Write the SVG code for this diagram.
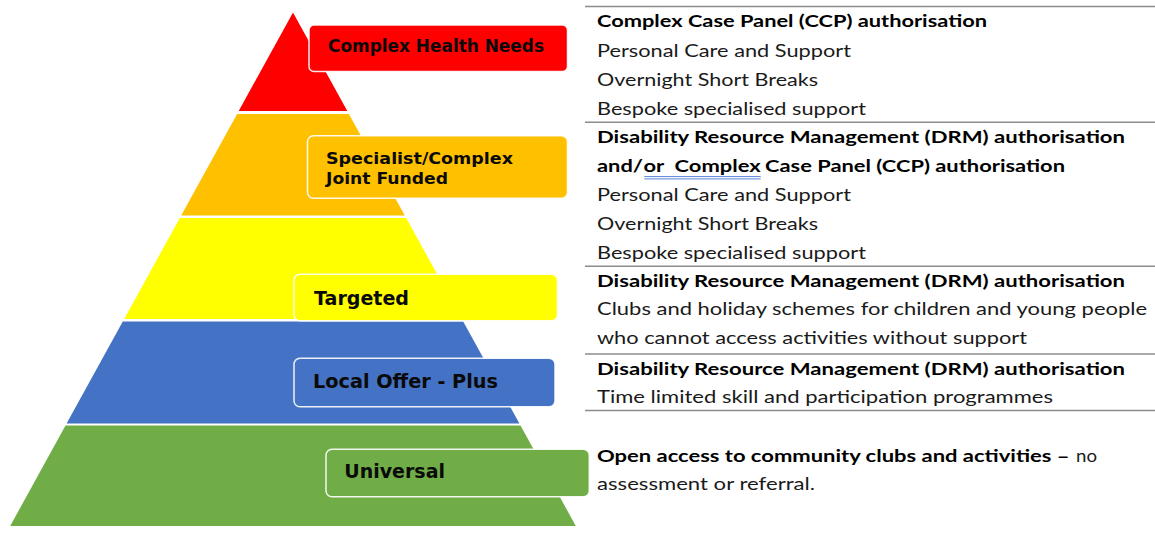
<svg xmlns="http://www.w3.org/2000/svg" width="1155" height="556" viewBox="0 0 1155 556">
<style>
.tier{stroke:none}
.box{stroke:#ffffff;stroke-width:1.5;stroke-opacity:0.9}
.lbl{font-family:"DejaVu Sans","Liberation Sans",sans-serif;font-weight:bold;fill:#0a0a0a}
.t{font-family:Lato,"Open Sans","Liberation Sans",sans-serif;font-size:17.5px;fill:#1a1a1a}
.b{font-weight:bold;fill:#000}
.rule{stroke:#8c8c8c;stroke-width:1.5}
.wavy{stroke:#5a84d8;stroke-width:1}
</style>
<rect width="1155" height="556" fill="#ffffff"/>

<g id="pyramid">
<polygon class="tier" fill="#FF0000" points="293,12.5 238.7,111 347.3,111"/>
<polygon class="tier" fill="#FFC000" points="237.1,114 348.9,114 404.8,215.5 181.2,215.5"/>
<polygon class="tier" fill="#FFFF00" points="179.8,218 406.2,218 461.8,319 124.2,319"/>
<polygon class="tier" fill="#4472C4" points="122.8,321.5 463.2,321.5 519.4,423.5 66.6,423.5"/>
<polygon class="tier" fill="#70AD47" points="65.5,425.5 520.5,425.5 575.8,526 10.2,526"/>
</g>

<g id="node-complex-health">
<rect class="box" x="309" y="25" width="258.5" height="46.5" rx="5" fill="#FF0000"/>
<text class="lbl" x="328" y="52.3" font-size="17" textLength="216" lengthAdjust="spacingAndGlyphs">Complex Health Needs</text>
</g>

<g id="node-specialist">
<rect class="box" x="307.5" y="135.7" width="260" height="62.6" rx="6" fill="#FFC000"/>
<text class="lbl" x="326" y="164" font-size="16.5" textLength="187" lengthAdjust="spacingAndGlyphs">Specialist/Complex</text>
<text class="lbl" x="326" y="184.3" font-size="16.5" textLength="122" lengthAdjust="spacingAndGlyphs">Joint Funded</text>
</g>

<g id="node-targeted">
<rect class="box" x="294" y="274.3" width="263.5" height="46.4" rx="6" fill="#FFFF00"/>
<text class="lbl" x="314" y="305" font-size="19" textLength="95" lengthAdjust="spacingAndGlyphs">Targeted</text>
</g>

<g id="node-local-offer">
<rect class="box" x="294" y="358.3" width="261" height="48.4" rx="6" fill="#4472C4"/>
<text class="lbl" x="313" y="388.3" font-size="19" textLength="185" lengthAdjust="spacingAndGlyphs">Local Offer - Plus</text>
</g>

<g id="node-universal">
<rect class="box" x="326" y="449.3" width="263.3" height="47.4" rx="6" fill="#70AD47"/>
<text class="lbl" x="344.3" y="478.3" font-size="19" textLength="100.7" lengthAdjust="spacingAndGlyphs">Universal</text>
</g>

<g id="connectors">
<line class="rule" x1="585" y1="6.5" x2="1155" y2="6.5"/>
<line class="rule" x1="585" y1="122.3" x2="1155" y2="122.3"/>
<line class="rule" x1="585" y1="266.3" x2="1155" y2="266.3"/>
<line class="rule" x1="585" y1="354" x2="1155" y2="354"/>
<line class="rule" x1="585" y1="410.5" x2="1155" y2="410.5"/>
</g>

<g id="desc-complex-health">
<text class="t b" x="597" y="27" textLength="390" lengthAdjust="spacingAndGlyphs">Complex Case Panel (CCP) authorisation</text>
<text class="t" x="597" y="56.5" textLength="254" lengthAdjust="spacingAndGlyphs">Personal Care and Support</text>
<text class="t" x="597" y="85.5" textLength="221" lengthAdjust="spacingAndGlyphs">Overnight Short Breaks</text>
<text class="t" x="597" y="114.5" textLength="269" lengthAdjust="spacingAndGlyphs">Bespoke specialised support</text>
</g>

<g id="desc-specialist">
<text class="t b" x="597" y="143" textLength="528" lengthAdjust="spacingAndGlyphs">Disability Resource Management (DRM) authorisation</text>
<text class="t b" x="597" y="171.5" textLength="46" lengthAdjust="spacingAndGlyphs">and/</text>
<text class="t b" x="643.5" y="171.5" xml:space="preserve" textLength="117.2" lengthAdjust="spacingAndGlyphs">or  Complex</text>
<text class="t b" x="765" y="171.5" textLength="300" lengthAdjust="spacingAndGlyphs">Case Panel (CCP) authorisation</text>
<line class="wavy" x1="644.3" y1="176.6" x2="760.7" y2="176.6"/>
<line class="wavy" x1="644.3" y1="178.9" x2="760.7" y2="178.9"/>
<text class="t" x="597" y="201" textLength="254" lengthAdjust="spacingAndGlyphs">Personal Care and Support</text>
<text class="t" x="597" y="230" textLength="221" lengthAdjust="spacingAndGlyphs">Overnight Short Breaks</text>
<text class="t" x="597" y="258.7" textLength="269" lengthAdjust="spacingAndGlyphs">Bespoke specialised support</text>
</g>

<g id="desc-targeted">
<text class="t b" x="597" y="286.8" textLength="528" lengthAdjust="spacingAndGlyphs">Disability Resource Management (DRM) authorisation</text>
<text class="t" x="597" y="315.3" textLength="550" lengthAdjust="spacingAndGlyphs">Clubs and holiday schemes for children and young people</text>
<text class="t" x="597" y="343.8" textLength="430" lengthAdjust="spacingAndGlyphs">who cannot access activities without support</text>
</g>

<g id="desc-local-offer">
<text class="t b" x="597" y="375" textLength="528" lengthAdjust="spacingAndGlyphs">Disability Resource Management (DRM) authorisation</text>
<text class="t" x="597" y="402.5" textLength="456" lengthAdjust="spacingAndGlyphs">Time limited skill and participation programmes</text>
</g>

<g id="desc-universal">
<text class="t b" x="597" y="461.7" textLength="472.5" lengthAdjust="spacingAndGlyphs">Open access to community clubs and activities –</text>
<text class="t" x="1076" y="461.7" textLength="21" lengthAdjust="spacingAndGlyphs">no</text>
<text class="t" x="597" y="490" textLength="218" lengthAdjust="spacingAndGlyphs">assessment or referral.</text>
</g>
</svg>
